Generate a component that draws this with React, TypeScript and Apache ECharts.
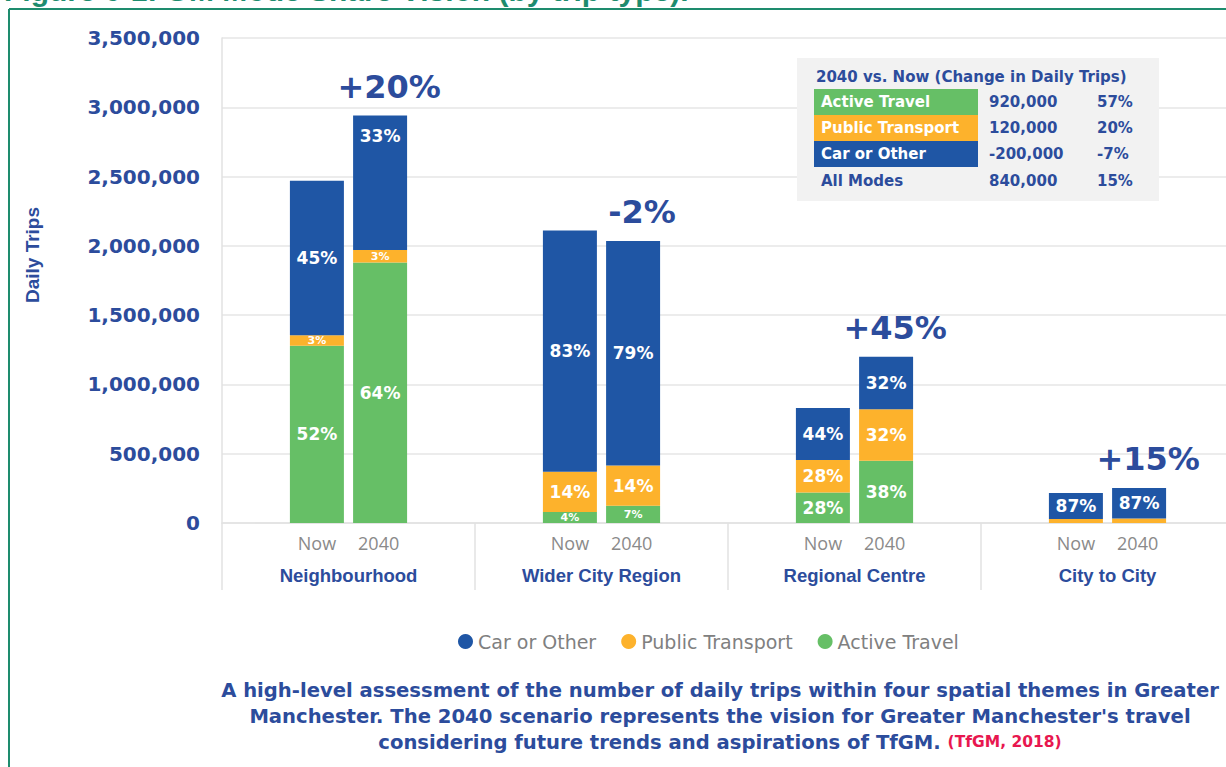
import React, { useEffect, useRef } from "react";
import * as echarts from "echarts";

const categories = ["Neighbourhood", "Wider City Region", "Regional Centre", "City to City"];
const periods = ["Now", "2040"];

const activeNow = [1280000, 80000, 220000, 0];
const ptNow = [75000, 290000, 235000, 28000];
const carNow = [1115000, 1740000, 375000, 188000];
const active2040 = [1880000, 125000, 450000, 0];
const pt2040 = [90000, 290000, 370000, 33000];
const car2040 = [970000, 1620000, 380000, 220000];

const activeNowPct = ["52%", "4%", "28%", ""];
const ptNowPct = ["3%", "14%", "28%", ""];
const carNowPct = ["45%", "83%", "44%", "87%"];
const active2040Pct = ["64%", "7%", "38%", ""];
const pt2040Pct = ["3%", "14%", "32%", ""];
const car2040Pct = ["33%", "79%", "32%", "87%"];
const totalChange = ["+20%", "-2%", "+45%", "+15%"];

const yTicks = [0, 500000, 1000000, 1500000, 2000000, 2500000, 3000000, 3500000];

const tableTitle = "2040 vs. Now (Change in Daily Trips)";
const tableRows = ["Active Travel", "Public Transport", "Car or Other", "All Modes"];
const tableChange = ["920,000", "120,000", "-200,000", "840,000"];
const tablePct = ["57%", "20%", "-7%", "15%"];

const captionLines = [
  "A high-level assessment of the number of daily trips within four spatial themes in Greater",
  "Manchester. The 2040 scenario represents the vision for Greater Manchester's travel",
  "considering future trends and aspirations of TfGM. ",
];
const captionSource = "(TfGM, 2018)";
const figureTitle = "Figure 6-1: GM Mode Share Vision (by trip type).";
const yAxisTitle = "Daily Trips";

const BLUE = "#1f56a5";
const ORANGE = "#fdb22c";
const GREEN = "#66bf66";
const TEXT_BLUE = "#2c4c9c";
const FRAME = "#1e8c6e";
const WIDE = "DejaVu Sans, Verdana, sans-serif";
const ARIAL = "Liberation Sans, Arial, sans-serif";

function segData(values: number[], labels: string[], isTop?: boolean) {
  return values.map((v, i) => {
    const small = v < 150000;
    return {
      value: v,
      label: {
        show: labels[i] !== "",
        formatter: labels[i],
        fontSize: small ? 11 : 17,
        position: isTop && i === 0 ? "insideTop" : "inside",
        distance: 12,
      },
    };
  });
}

export default function App() {
  const ref = useRef<HTMLDivElement>(null);

  useEffect(() => {
    if (!ref.current) return;
    const chart = echarts.init(ref.current, null, { renderer: "svg" });

    const barLabel = {
      show: true,
      color: "#ffffff",
      fontWeight: "bold",
      fontFamily: WIDE,
    };

    const mk = (name: string, stack: string, color: string, values: number[], labels: string[], isTop?: boolean) => ({
      name,
      type: "bar",
      stack,
      barWidth: 54,
      barGap: "17%",
      itemStyle: { color },
      label: barLabel,
      data: segData(values, labels, isTop),
    });

    const Z = 100;
    const rowColors = [GREEN, ORANGE, BLUE];
    const tableFont = `bold 15px ${WIDE}`;
    const tableEls: any[] = [
      { type: "rect", z: Z, shape: { x: 797, y: 58, width: 362, height: 143 }, style: { fill: "#f2f2f2" } },
      {
        type: "text",
        z: Z + 2,
        x: 816,
        y: 77,
        style: { text: tableTitle, fill: TEXT_BLUE, font: tableFont, verticalAlign: "middle" },
      },
    ];
    tableRows.forEach((r, i) => {
      const cy = 102 + i * 26 + (i === 3 ? 1 : 0);
      if (i < 3) {
        tableEls.push({
          type: "rect",
          z: Z + 1,
          shape: { x: 814, y: 89 + i * 26, width: 164, height: 26 },
          style: { fill: rowColors[i] },
        });
      }
      tableEls.push({
        type: "text",
        z: Z + 2,
        x: 821,
        y: cy,
        style: { text: r, fill: i < 3 ? "#ffffff" : TEXT_BLUE, font: tableFont, verticalAlign: "middle" },
      });
      tableEls.push({
        type: "text",
        z: Z + 2,
        x: 989,
        y: cy,
        style: { text: tableChange[i], fill: TEXT_BLUE, font: tableFont, verticalAlign: "middle" },
      });
      tableEls.push({
        type: "text",
        z: Z + 2,
        x: 1097,
        y: cy,
        style: { text: tablePct[i], fill: TEXT_BLUE, font: tableFont, verticalAlign: "middle" },
      });
    });

    const captionText =
      captionLines.slice(0, 2).map((l) => `{a|${l}}`).join("\n") +
      `\n{a|${captionLines[2]}}{r|${captionSource}}`;

    chart.setOption({
      animation: false,
      backgroundColor: "#ffffff",
      grid: { left: 222, right: 0, top: 38, bottom: 244 },
      legend: {
        data: ["Car or Other", "Public Transport", "Active Travel"],
        left: 453,
        top: 627,
        icon: "circle",
        itemWidth: 15,
        itemHeight: 15,
        itemGap: 25,
        textStyle: { fontSize: 19, color: "#808080", fontFamily: WIDE },
      },
      xAxis: {
        type: "category",
        data: categories,
        axisLine: { show: true, lineStyle: { color: "#e2e2e2", width: 1.5 } },
        axisTick: { show: true, length: 67, lineStyle: { color: "#e2e2e2", width: 1.5 } },
        axisLabel: {
          interval: 0,
          margin: 4,
          formatter: (v: string) => `{t|${periods[0]}}{s| }{t|${periods[1]}}\n{b|${v}}`,
          rich: {
            t: { fontSize: 18, color: "#8a8a8a", lineHeight: 32, fontFamily: "Open Sans, sans-serif" },
            s: { width: 22, lineHeight: 32 },
            b: { fontSize: 18.5, fontWeight: "bold", color: TEXT_BLUE, lineHeight: 32, fontFamily: ARIAL },
          },
        },
      },
      yAxis: {
        type: "value",
        min: 0,
        max: 3500000,
        interval: 500000,
        axisLine: { show: true, lineStyle: { color: "#e2e2e2", width: 1.5 } },
        axisTick: { show: false },
        splitLine: { lineStyle: { color: "#e6e6e6", width: 1.5 } },
        axisLabel: {
          margin: 22,
          fontSize: 20,
          fontWeight: "bold",
          color: TEXT_BLUE,
          fontFamily: WIDE,
          customValues: yTicks,
          formatter: (v: number) => v.toLocaleString("en-US"),
        },
      },
      series: [
        mk("Active Travel", "now", GREEN, activeNow, activeNowPct),
        mk("Public Transport", "now", ORANGE, ptNow, ptNowPct),
        mk("Car or Other", "now", BLUE, carNow, carNowPct),
        mk("Active Travel", "y2040", GREEN, active2040, active2040Pct),
        mk("Public Transport", "y2040", ORANGE, pt2040, pt2040Pct),
        mk("Car or Other", "y2040", BLUE, car2040, car2040Pct, true),
        {
          name: "Change",
          type: "bar",
          stack: "y2040",
          barWidth: 54,
          barGap: "17%",
          itemStyle: { color: "transparent" },
          label: {
            show: true,
            position: "top",
            distance: 13,
            offset: [9, 0],
            fontSize: 32,
            fontWeight: "bold",
            color: TEXT_BLUE,
            fontFamily: WIDE,
            formatter: (p: any) => totalChange[p.dataIndex],
          },
          data: totalChange.map(() => 0),
        },
      ],
      graphic: [
        {
          type: "text",
          z: Z,
          x: 4,
          y: 5,
          style: { text: figureTitle, fill: FRAME, font: `bold 30px ${ARIAL}`, verticalAlign: "bottom" },
        },
        { type: "line", z: Z, shape: { x1: 9, y1: 9, x2: 1234, y2: 9 }, style: { stroke: FRAME, lineWidth: 2 } },
        { type: "line", z: Z, shape: { x1: 9, y1: 9, x2: 9, y2: 767 }, style: { stroke: FRAME, lineWidth: 2 } },
        {
          type: "text",
          z: Z,
          x: 32,
          y: 255,
          rotation: Math.PI / 2,
          style: {
            text: yAxisTitle,
            fill: TEXT_BLUE,
            font: `bold 19px ${ARIAL}`,
            align: "center",
            verticalAlign: "middle",
          },
        },
        ...tableEls,
        {
          type: "text",
          z: Z,
          x: 720,
          y: 677,
          style: {
            text: captionText,
            align: "center",
            verticalAlign: "top",
            rich: {
              a: { fontSize: 19.6, fontWeight: "bold", fill: TEXT_BLUE, lineHeight: 26, fontFamily: WIDE },
              r: { fontSize: 15.5, fontWeight: "bold", fill: "#e8174f", lineHeight: 26, fontFamily: WIDE },
            },
          },
        },
      ],
    });

    return () => chart.dispose();
  }, []);

  return (
    <div style={{ position: "absolute", left: 0, top: 0, width: 1226, height: 767, overflow: "hidden" }}>
      <div ref={ref} style={{ width: 1234, height: 767 }} />
    </div>
  );
}
